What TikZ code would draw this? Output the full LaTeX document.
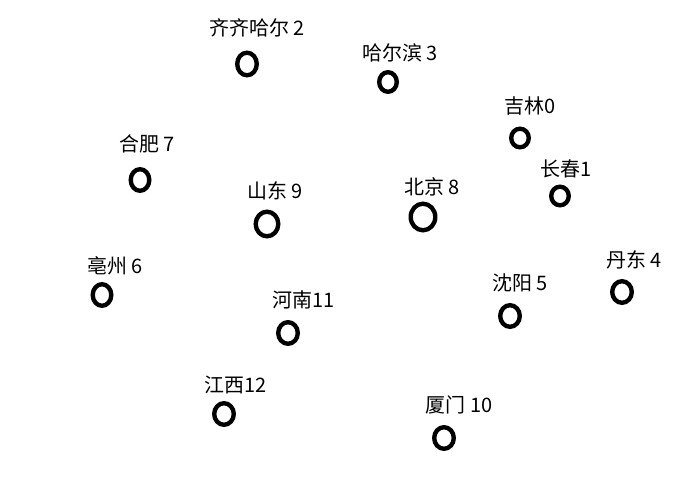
\documentclass[tikz,border=0pt]{standalone}
\usepackage{fontspec}
\setmainfont{Noto Sans CJK SC}
\usetikzlibrary{shapes.geometric}
\tikzset{city/.style={ellipse,draw=black,fill=white,line width=3.1pt,inner sep=0pt},
  lbl/.style={font=\fontsize{14.2}{16}\selectfont,inner sep=0pt,anchor=center}}

\begin{document}
\begin{tikzpicture}[x=0.025cm,y=-0.025cm]
\useasboundingbox (0,0) rectangle (700,500);
% cities: name / x / y / outer width / outer height (px)
\foreach \n/\x/\y/\w/\h in {0/520/138/22/23,1/560/196/22/23,2/247/64/24/27,3/388/82/22/24,
  4/622/292/24/26,5/510/316/24/26,6/102/295/23/26,7/140/180/23/26,8/423/217/29/31,
  9/267/224/27/29,10/444/438/24/26,11/288/333/24/26,12/224/414/24/26}{
  \node[city,minimum width={(\w-4.4)*0.711pt},minimum height={(\h-4.4)*0.711pt}] (c\n) at (\x,\y) {};}
% labels
\foreach \n/\x/\y/\t in {0/530/106/吉林0,1/566/169/长春1,2/257/28/齐齐哈尔 2,3/400/53/哈尔滨 3,
  4/634/260/丹东 4,5/520/283/沈阳 5,6/115/266/亳州 6,7/147/144/合肥 7,8/432/187/北京 8,
  9/275/191/山东 9,10/459/405/厦门 10,11/304/300/河南11,12/236/385/江西12}{
  \node[lbl] (l\n) at (\x,\y) {\t};}
\end{tikzpicture}
\end{document}
